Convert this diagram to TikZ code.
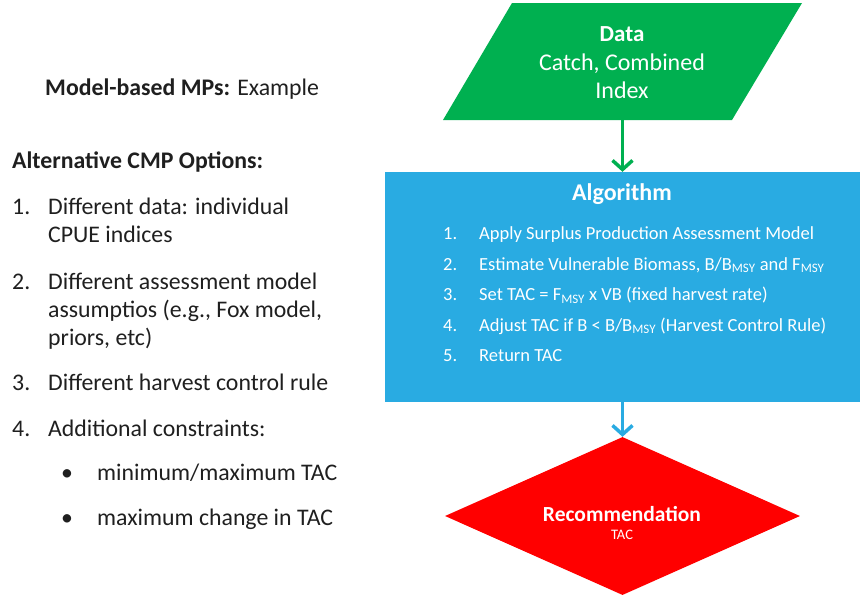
\documentclass[tikz,border=0pt]{standalone}
\usepackage{fontspec}
\setmainfont{Carlito}
\usetikzlibrary{shapes.geometric,arrows.meta}
\definecolor{datagreen}{RGB}{0,176,80}
\definecolor{algblue}{RGB}{41,171,226}
\definecolor{recred}{RGB}{255,0,0}
\begin{document}
\begin{tikzpicture}[x=1pt,y=-1pt,line join=round,
	txt/.style={anchor=base west,inner sep=0,text=black!88,font=\fontsize{23.8}{28}\selectfont},
	wtxt/.style={anchor=base,inner sep=0,text=white,font=\fontsize{24}{28}\selectfont},
	alg/.style={anchor=base west,inner sep=0,text=white,font=\fontsize{18.5}{22}\selectfont},
	flow/.style={line width=3.5pt,-{Straight Barb[length=9pt,width=20pt]}}]
	\useasboundingbox (0,0) rectangle (862,597);
	% left column
	\node[txt] (title) at (45,95) {\textbf{Model-based MPs:} Example};
	\node[txt] (alt) at (12,168) {\textbf{Alternative CMP Options:}};
	\foreach \n/\y [count=\i] in {1./214,2./289,3./390,4./436}
	\node[txt] (num\i) at (12,\y) {\n};
	\foreach \t/\y [count=\i] in {Different data: individual/214,CPUE indices/242,
		Different assessment model/289,{assumptios (e.g., Fox model,}/317,{priors, etc)}/345,
		Different harvest control rule/390,Additional constraints:/436}
	\node[txt] (line\i) at (48,\y) {\t};
	\foreach \t/\y [count=\i] in {{minimum/maximum TAC}/480,maximum change in TAC/525}{
		\node[txt] (bul\i) at (61,\y) {\textbullet};
		\node[txt] (sub\i) at (97,\y) {\t};
	}
	% data
	\fill[datagreen] (512,3) -- (802,3) -- (732,120) -- (443,120) -- cycle;
	\coordinate (dataout) at (622.5,120);
	\node[wtxt,font=\bfseries\fontsize{23}{28}\selectfont] (data) at (622,41) {Data};
	\node[wtxt] (datab) at (622,70) {Catch, Combined};
	\node[wtxt] (datac) at (622,98) {Index};
	% algorithm
	\node[fill=algblue,minimum width=475pt,minimum height=230pt,inner sep=0] (algo) at (622.5,287) {};
	\node[wtxt,font=\bfseries\fontsize{24}{28}\selectfont] (algt) at (622,200) {Algorithm};
	\foreach \t/\y [count=\i] in {Apply Surplus Production Assessment Model/239,
		{Estimate Vulnerable Biomass, B/B\textsubscript{MSY} and F\textsubscript{MSY}}/270,
		{Set TAC = F\textsubscript{MSY} x VB (fixed harvest rate)}/300.5,
		{Adjust TAC if B < B/B\textsubscript{MSY} (Harvest Control Rule)}/331,
		Return TAC/361.5}{
		\node[alg] (an\i) at (443,\y) {\i.};
		\node[alg] (at\i) at (479,\y) {\t};
	}
	% recommendation
	\node[diamond,fill=recred,minimum width=355pt,minimum height=158pt,inner sep=0] (rec) at (622.5,516) {};
	\node[wtxt,font=\bfseries\fontsize{21.5}{26}\selectfont] (rect) at (622,521) {Recommendation};
	\node[wtxt,font=\fontsize{14.5}{17}\selectfont] (tac) at (622,539) {TAC};
	% arrows
	\draw[flow,datagreen] (dataout) -- (algo.north);
	\draw[flow,algblue] (algo.south) -- (rec.north);
\end{tikzpicture}
\end{document}
